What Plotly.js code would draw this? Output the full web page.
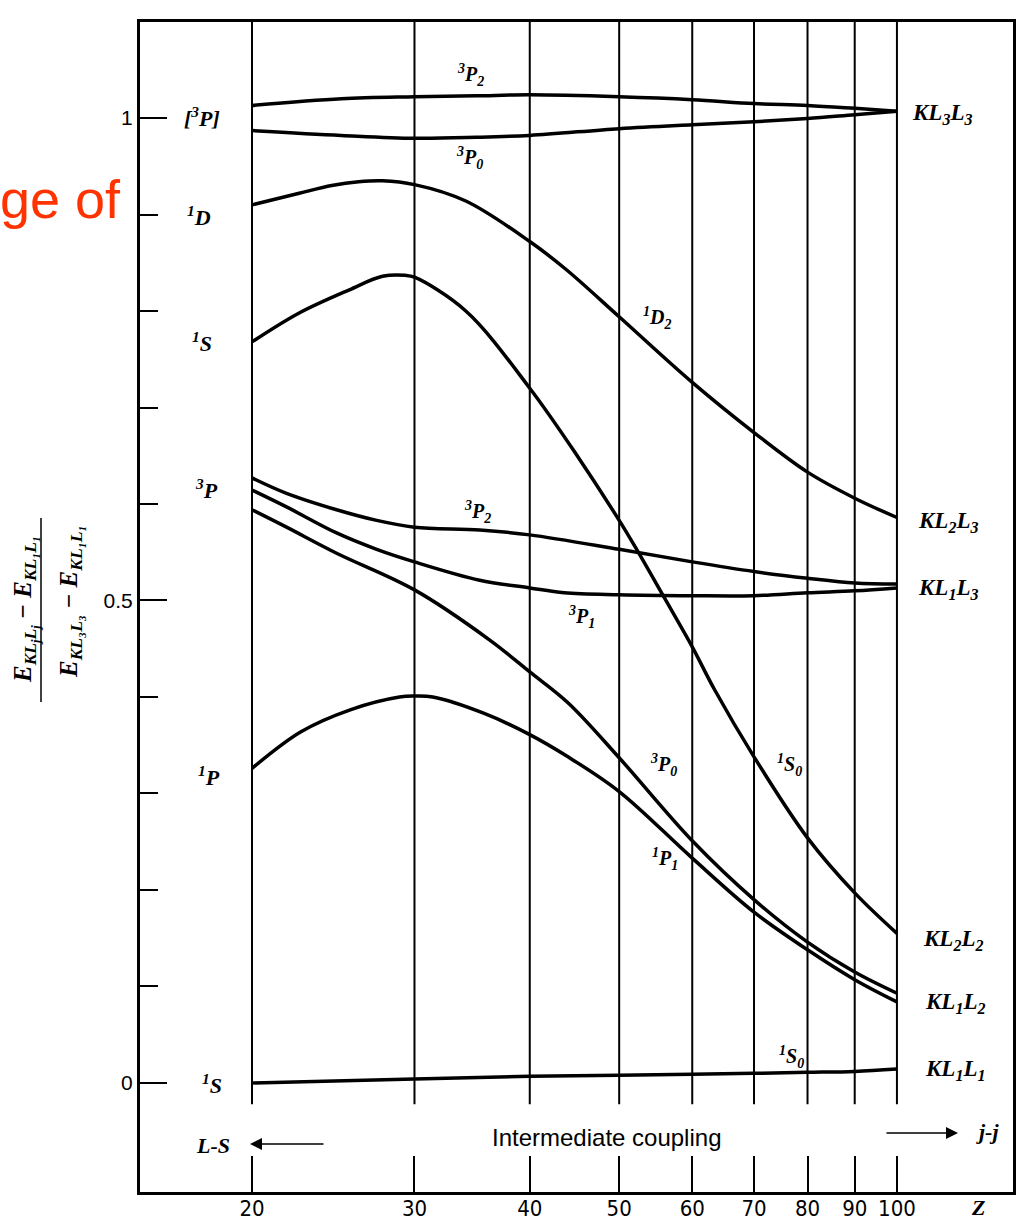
<!DOCTYPE html>
<html>
<head>
<meta charset="utf-8">
<script src="https://cdn.plot.ly/plotly-3.0.1.min.js"></script>
<style>
html,body{margin:0;padding:0;background:#fff;}
#chart{width:1020px;height:1224px;}
</style>
</head>
<body>
<div id="chart"></div>
<script>
// ---- axis ticks ----
const zTicks = [20, 30, 40, 50, 60, 70, 80, 90, 100];
const zTickText = ['20', '30', '40', '50', '60', '70', '80', '90', '100'];
const yMajorTicks = [0, 0.5, 1];
const yMajorText = ['0', '0.5', '1'];
const yMinorTicks = [0.1, 0.2, 0.3, 0.4, 0.6, 0.7, 0.8, 0.9];

// ---- curves (Z, normalized energy) ----
// 3P2 -> KL3L3
const z_3P2_a = [20, 25, 30, 35, 40, 50, 60, 70, 80, 90, 100];
const v_3P2_a = [1.013, 1.020, 1.022, 1.023, 1.024, 1.022, 1.019, 1.015, 1.013, 1.010, 1.007];
// 3P0 -> KL3L3
const z_3P0_a = [20, 25, 30, 35, 40, 50, 60, 70, 80, 90, 100];
const v_3P0_a = [0.987, 0.982, 0.979, 0.980, 0.982, 0.989, 0.993, 0.996, 0.9995, 1.0035, 1.007];
// 1D2 -> KL2L3
const z_1D2 = [20, 22.5, 24.4, 26.1, 27.7, 30, 34.1, 40, 43.8, 50, 60, 70, 80, 90, 100];
const v_1D2 = [0.910, 0.922, 0.930, 0.934, 0.935, 0.931, 0.914, 0.872, 0.843, 0.794, 0.726, 0.674, 0.633, 0.606, 0.586];
// 1S0 -> KL2L2
const z_1S0_a = [20, 22.5, 25.5, 27.7, 29.3, 30, 34.1, 40, 45.1, 50, 52, 55.8, 60, 63.4, 70, 80, 90, 100];
const v_1S0_a = [0.768, 0.798, 0.822, 0.836, 0.837, 0.835, 0.800, 0.720, 0.649, 0.583, 0.556, 0.505, 0.452, 0.408, 0.338, 0.254, 0.197, 0.155];
// 3P2 -> KL1L3
const z_3P2_b = [20, 21.8, 24.7, 27.3, 30, 35.3, 40, 50, 60, 70, 80, 90, 100];
const v_3P2_b = [0.627, 0.611, 0.594, 0.583, 0.576, 0.573, 0.568, 0.553, 0.540, 0.530, 0.523, 0.518, 0.517];
// 3P1 -> KL1L3
const z_3P1 = [20, 21.8, 24.7, 27.3, 30, 35.3, 40, 43.6, 50, 60, 70, 80, 90, 100];
const v_3P1 = [0.6145, 0.597, 0.570, 0.553, 0.540, 0.521, 0.513, 0.508, 0.506, 0.505, 0.505, 0.508, 0.510, 0.513];
// 3P0 -> KL1L2
const z_3P0_b = [20, 21.8, 24.7, 30, 36.2, 40, 44, 50, 60, 70, 80, 90, 100];
const v_3P0_b = [0.594, 0.576, 0.549, 0.511, 0.459, 0.426, 0.394, 0.337, 0.251, 0.190, 0.146, 0.115, 0.093];
// 1P1 -> KL1L2
const z_1P1 = [20, 22.6, 25.6, 28.9, 30, 31.4, 35.7, 40, 44, 50, 60, 70, 80, 90, 100];
const v_1P1 = [0.326, 0.364, 0.387, 0.400, 0.401, 0.400, 0.383, 0.361, 0.338, 0.302, 0.233, 0.177, 0.138, 0.107, 0.084];
// 1S0 -> KL1L1
const z_1S0_b = [20, 30, 40, 50, 60, 70, 80, 90, 100];
const v_1S0_b = [0.000, 0.004, 0.007, 0.008, 0.009, 0.010, 0.011, 0.012, 0.0145];

// ---- geometry helpers (pixel -> paper) ----
const W = 1020, H = 1224;
const ML = 140, MR = 7, MT = 22, MB = 32;
const PL = ML, PR = W - MR, PT = MT, PB = H - MB;
function PX(x) { return (x - PL) / (PR - PL); }
function PY(y) { return (PB - y) / (PB - PT); }

const curves = [
  [z_3P2_a, v_3P2_a], [z_3P0_a, v_3P0_a], [z_1D2, v_1D2], [z_1S0_a, v_1S0_a],
  [z_3P2_b, v_3P2_b], [z_3P1, v_3P1], [z_3P0_b, v_3P0_b], [z_1P1, v_1P1], [z_1S0_b, v_1S0_b]
];
const traces = curves.map(c => ({
  x: c[0], y: c[1], type: 'scatter', mode: 'lines',
  line: {color: '#000', width: 3.5, shape: 'spline', smoothing: 1.0},
  hoverinfo: 'skip', showlegend: false
}));

const yLo = -0.113, yHi = 1.0995;
const shapes = zTicks.map(z => ({
  type: 'line', xref: 'x', yref: 'y', x0: z, x1: z, y0: -0.022, y1: yHi,
  line: {color: '#000', width: 2}, layer: 'below'
}));
// fraction bar of y title
shapes.push({type: 'line', xref: 'paper', yref: 'paper', x0: PX(41), x1: PX(41), y0: PY(702), y1: PY(518),
  line: {color: '#000', width: 1.5}});

const serif = 'Liberation Serif, Times New Roman, serif';
const sans = 'Liberation Sans, Arial, sans-serif';
function lab(text, x, y, size, extra) {
  return Object.assign({
    xref: 'paper', yref: 'paper', x: PX(x), y: PY(y), xanchor: 'center', yanchor: 'middle',
    text: '<b><i>' + text + '</i></b>', showarrow: false,
    font: {family: serif, size: size || 20, color: '#000'}
  }, extra || {});
}

const annotations = [
  // curve labels
  lab('<sup>3</sup>P<sub>2</sub>', 470, 75, 20),
  lab('<sup>3</sup>P<sub>0</sub>', 469, 158, 20),
  lab('<sup>1</sup>D<sub>2</sub>', 657, 318, 20),
  lab('<sup>3</sup>P<sub>2</sub>', 477, 512, 20),
  lab('<sup>3</sup>P<sub>1</sub>', 581, 617, 20),
  lab('<sup>3</sup>P<sub>0</sub>', 663, 765, 20),
  lab('<sup>1</sup>P<sub>1</sub>', 665, 859, 20),
  lab('<sup>1</sup>S<sub>0</sub>', 789, 765, 20),
  lab('<sup>1</sup>S<sub>0</sub>', 791, 1057, 20),
  // left term labels
  lab('[<sup>3</sup>P]', 202, 117, 22),
  lab('<sup>1</sup>D', 199, 216, 22),
  lab('<sup>1</sup>S', 202, 342, 22),
  lab('<sup>3</sup>P', 206, 489, 22),
  lab('<sup>1</sup>P', 209, 776, 22),
  lab('<sup>1</sup>S', 212, 1084, 22),
  // right configuration labels
  lab('KL<sub>3</sub>L<sub>3</sub>', 942, 114, 23),
  lab('KL<sub>2</sub>L<sub>3</sub>', 948, 522, 23),
  lab('KL<sub>1</sub>L<sub>3</sub>', 948, 589, 23),
  lab('KL<sub>2</sub>L<sub>2</sub>', 953, 940, 23),
  lab('KL<sub>1</sub>L<sub>2</sub>', 955, 1003, 23),
  lab('KL<sub>1</sub>L<sub>1</sub>', 955, 1070, 23),
  // bottom texts
  lab('L-S', 213, 1145, 22),
  lab('j-j', 987, 1131, 22),
  lab('Z', 978, 1207, 22),
  {xref: 'paper', yref: 'paper', x: PX(606), y: PY(1137), xanchor: 'center', yanchor: 'middle',
   text: 'Intermediate coupling', showarrow: false, font: {family: sans, size: 24, color: '#000'}},
  // arrows
  {xref: 'paper', yref: 'paper', x: PX(250), y: PY(1144), ax: 75, ay: 0, text: '', showarrow: true,
   arrowhead: 2, arrowsize: 1.6, arrowwidth: 1.5, arrowcolor: '#000'},
  {xref: 'paper', yref: 'paper', x: PX(958), y: PY(1133), ax: -73, ay: 0, text: '', showarrow: true,
   arrowhead: 2, arrowsize: 1.6, arrowwidth: 1.5, arrowcolor: '#000'},
  // y title (fraction)
  lab('E<sub>KL<sub>j</sub>L<sub>j</sub></sub> − E<sub>KL₁L₁</sub>', 26, 610, 25, {textangle: -90}),
  lab('E<sub>KL₃L₃</sub> − E<sub>KL₁L₁</sub>', 70, 602, 25, {textangle: -90}),
  // cropped slide text
  {xref: 'paper', yref: 'paper', x: PX(123), y: PY(199), xanchor: 'right', yanchor: 'middle',
   text: 'ge of', showarrow: false, font: {family: sans, size: 54, color: '#ff3300'}}
];

const layout = {
  width: W, height: H,
  margin: {l: ML, r: MR, t: MT, b: MB, pad: 0},
  paper_bgcolor: '#fff', plot_bgcolor: '#fff',
  showlegend: false,
  xaxis: {
    type: 'log', range: [1.17965, 2.12578],
    tickmode: 'array', tickvals: zTicks, ticktext: zTickText,
    ticks: 'inside', ticklen: 36, tickwidth: 2, tickcolor: '#000',
    ticklabelstandoff: -5,
    showline: true, linewidth: 3, linecolor: '#000', mirror: true,
    showgrid: false, zeroline: false,
    tickfont: {family: 'Liberation Sans Narrow, DejaVu Sans Condensed, Liberation Sans, sans-serif', size: 22, color: '#000'}
  },
  yaxis: {
    range: [yLo, yHi],
    tickmode: 'array', tickvals: yMajorTicks, ticktext: yMajorText,
    ticks: 'inside', ticklen: 27, tickwidth: 2, tickcolor: '#000',
    minor: {tickmode: 'array', tickvals: yMinorTicks, ticks: 'inside', ticklen: 18, tickwidth: 2, tickcolor: '#000', showgrid: false},
    showline: true, linewidth: 3, linecolor: '#000', mirror: true,
    showgrid: false, zeroline: false,
    tickfont: {family: sans, size: 21, color: '#000'}
  },
  shapes: shapes,
  annotations: annotations
};

Plotly.newPlot('chart', traces, layout, {staticPlot: true, displayModeBar: false});
</script>
</body>
</html>
